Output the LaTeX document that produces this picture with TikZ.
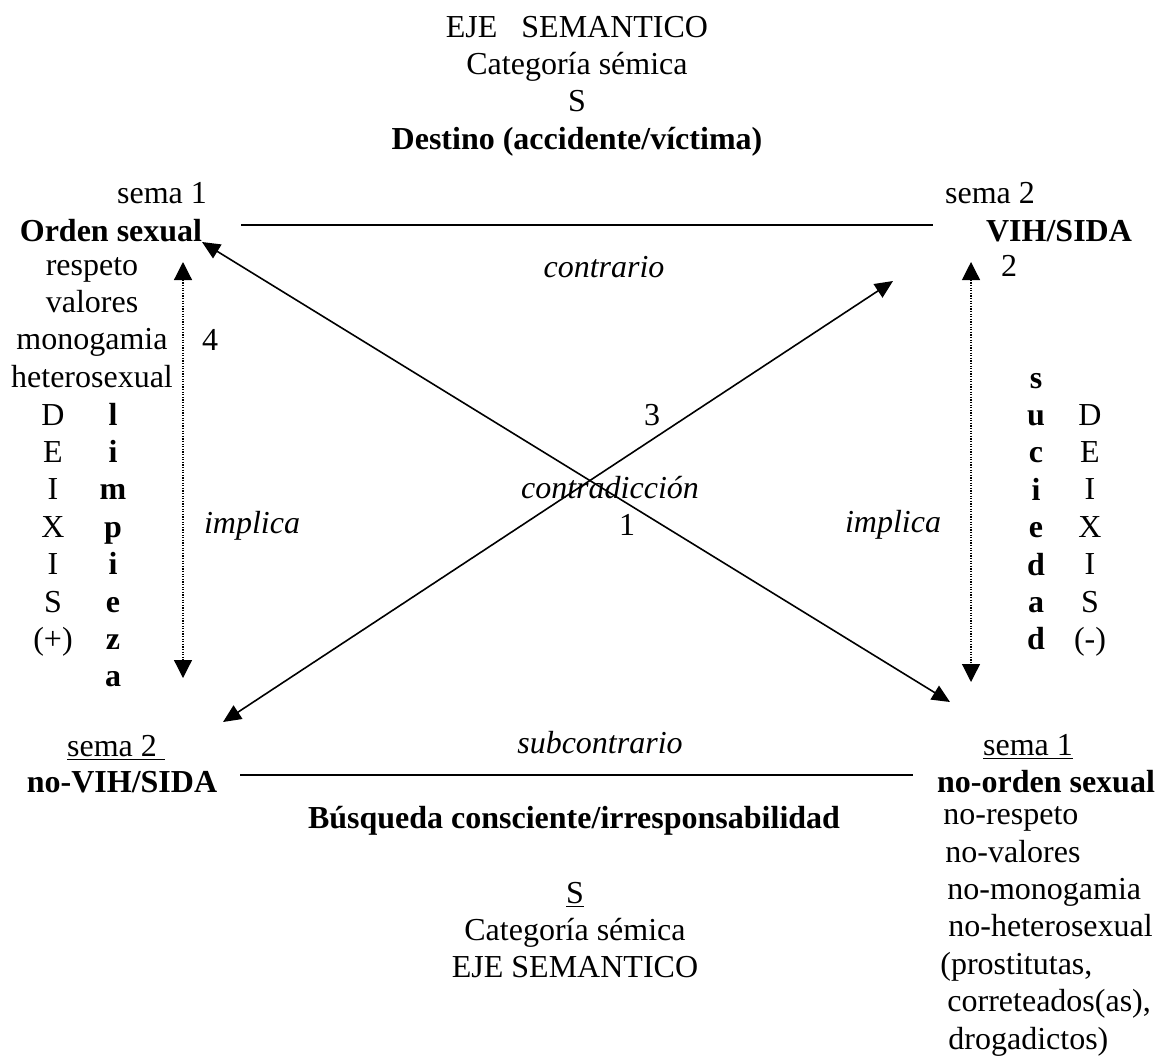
\documentclass[tikz,border=0pt]{standalone}
\usepackage{fontspec}
\setmainfont{Liberation Serif}
\usetikzlibrary{arrows.meta,positioning}
\tikzset{
  tx/.style={inner sep=0pt, anchor=base, align=center, font=\fontsize{16}{18.7}\selectfont},
  tb/.style={tx, font=\fontsize{16}{18.7}\selectfont\bfseries},
  ti/.style={tx, font=\fontsize{16}{18.7}\selectfont\itshape},
  ar/.style={{Triangle[length=9pt,width=8pt]}-{Triangle[length=9pt,width=8pt]}, line width=0.8pt},
  implarr/.style={{Triangle[length=9pt,width=9pt]}-{Triangle[length=9pt,width=9pt]}, line width=0.6pt, dash pattern=on 0.6pt off 0.7pt},
  ln/.style={line width=0.7pt},
}
\begin{document}
\begin{tikzpicture}[x=0.5pt, y=-0.5pt]
  \useasboundingbox (0,0) rectangle (1159,1055);
  % top of the square (multi-line nodes sit on their last line)
  \node[tx] (eje) at (577,149.2) {EJE\ \ \ SEMANTICO\\Categoría sémica\\S\\\textbf{Destino (accidente/víctima)}};
  \node[tx] (semaA) at (162,203) {sema 1};
  \node[tb] (orden) at (111,241) {Orden sexual};
  \node[tx] (rasgos) at (92,387.2) {respeto\\valores\\monogamia\\heterosexual};
  \node[tx] (deixisL) at (53,649.4) {D\\E\\I\\X\\I\\S\\(+)};
  \node[tb] (limpieza) at (113,686.8) {l\\i\\m\\p\\i\\e\\z\\a};
  \node[tx] (n4) at (210,350) {4};
  \node[tx] (semaB) at (990,203) {sema 2};
  \node[tb] (vih) at (1059,241) {VIH/SIDA};
  \node[tx] (n2) at (1009,276) {2};
  \node[tb] (suciedad) at (1036,649.8) {s\\u\\c\\i\\e\\d\\a\\d};
  \node[tx] (deixisR) at (1090,649.4) {D\\E\\I\\X\\I\\S\\(-)};
  % middle
  \node[ti] (contrario) at (604,277) {contrario};
  \node[tx] (n3) at (652,425) {3};
  \node[ti] (contradiccion) at (610,498) {contradicción};
  \node[tx] (n1) at (627,535) {1};
  \node[ti] (implicaL) at (252,533) {implica};
  \node[ti] (implicaR) at (893,532) {implica};
  % bottom of the square
  \node[tx] (semaC) at (116,756) {\underline{sema 2\ }};
  \node[tb] (novih) at (122,792) {no-VIH/SIDA};
  \node[ti] (subcontrario) at (600,753) {subcontrario};
  \node[tb] (busqueda) at (574,828) {Búsqueda consciente/irresponsabilidad};
  \node[tx] (ejeB) at (575,977.8) {\underline{S}\\Categoría sémica\\EJE SEMANTICO};
  \node[tx] (semaD) at (1028,755) {\underline{sema 1}};
  \node[tb] (noorden) at (1046,792) {no-orden sexual};
  \node[tx, anchor=base west, align=left] (norasgos) at (940,1049) {\hspace*{1.5pt}no-respeto\\\hspace*{2.5pt}no-valores\\\hspace*{3.5pt}no-monogamia\\\hspace*{4pt}no-heterosexual\\(prostitutas,\\\hspace*{3.5pt}correteados(as),\\\hspace*{4pt}drogadictos)};
  % ends of the connectors
  \coordinate (tl) at (202,242);
  \coordinate (br) at (950,702);
  \coordinate (tr) at (893,281);
  \coordinate (bl) at (223,722);
  \coordinate (topA) at (241,225);
  \coordinate (topB) at (933,225);
  \coordinate (botA) at (240,775);
  \coordinate (botB) at (913,775);
  \coordinate (impLa) at (183,262);
  \coordinate (impLb) at (183,678);
  \coordinate (impRa) at (971,262);
  \coordinate (impRb) at (971,682);
  \draw[ln] (topA) -- (topB);
  \draw[ln] (botA) -- (botB);
  \draw[ar] (tl) -- (br);
  \draw[ar] (bl) -- (tr);
  \draw[implarr] (impLa) -- (impLb);
  \draw[implarr] (impRa) -- (impRb);
\end{tikzpicture}
\end{document}
